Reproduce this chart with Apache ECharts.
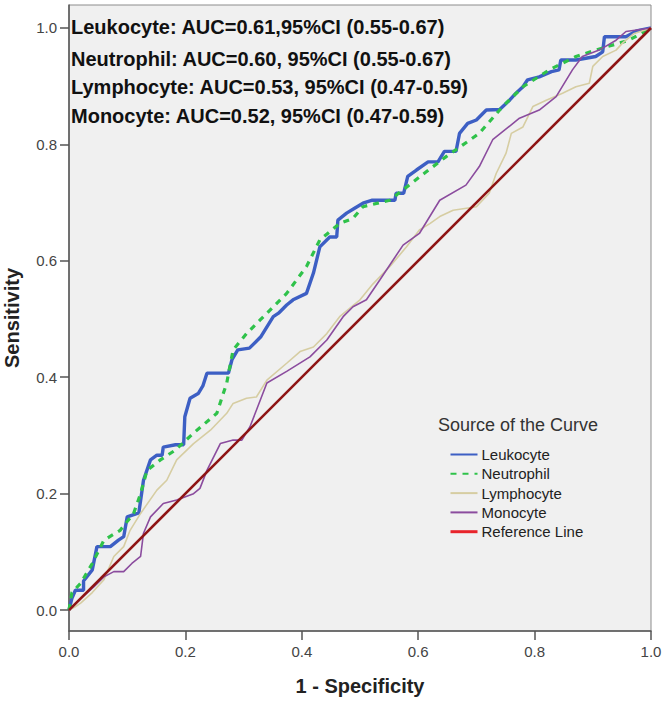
<!DOCTYPE html>
<html>
<head>
<meta charset="utf-8">
<script src="https://cdn.jsdelivr.net/npm/echarts@6/dist/echarts.min.js"></script>
<style>
html,body{margin:0;padding:0;background:#fff;}
#chart{width:666px;height:702px;}
</style>
</head>
<body>
<div id="chart"></div>
<script>
// ---- data ----
const seriesNames = ['Leukocyte', 'Neutrophil', 'Lymphocyte', 'Monocyte', 'Reference Line'];
const annotations = [
  'Leukocyte: AUC=0.61,95%CI (0.55-0.67)',
  'Neutrophil: AUC=0.60, 95%CI (0.55-0.67)',
  'Lymphocyte: AUC=0.53, 95%CI (0.47-0.59)',
  'Monocyte: AUC=0.52, 95%CI (0.47-0.59)'
];
const tickValues = [0, 0.2, 0.4, 0.6, 0.8, 1.0];

const leukocyteX = [0,0.005,0.011,0.025,0.025,0.04,0.048,0.071,0.085,0.094,0.1,0.12,0.128,0.14,0.151,0.16,0.162,0.183,0.197,0.199,0.208,0.222,0.23,0.237,0.274,0.28,0.29,0.31,0.33,0.351,0.36,0.374,0.385,0.408,0.42,0.431,0.448,0.46,0.462,0.477,0.49,0.505,0.52,0.56,0.562,0.575,0.582,0.597,0.617,0.634,0.645,0.665,0.671,0.685,0.70,0.717,0.74,0.757,0.768,0.78,0.788,0.808,0.829,0.842,0.845,0.871,0.905,0.917,0.92,0.957,0.975,1];
const leukocyteY = [0,0.02,0.034,0.034,0.05,0.069,0.109,0.109,0.12,0.126,0.16,0.167,0.223,0.258,0.266,0.266,0.28,0.284,0.284,0.332,0.364,0.372,0.385,0.407,0.407,0.43,0.447,0.45,0.47,0.504,0.51,0.524,0.533,0.544,0.579,0.624,0.641,0.641,0.67,0.682,0.69,0.699,0.704,0.704,0.716,0.716,0.745,0.756,0.77,0.77,0.788,0.788,0.819,0.836,0.842,0.859,0.86,0.876,0.888,0.899,0.911,0.916,0.925,0.928,0.945,0.945,0.951,0.959,0.985,0.985,0.995,1];

const neutrophilX = [0,0.005,0.02,0.04,0.06,0.088,0.111,0.123,0.134,0.157,0.183,0.214,0.254,0.271,0.282,0.305,0.328,0.351,0.374,0.408,0.431,0.465,0.488,0.505,0.551,0.574,0.61,0.648,0.705,0.745,0.78,0.825,0.871,0.905,0.962,1];
const neutrophilY = [0,0.03,0.046,0.08,0.12,0.137,0.166,0.2,0.24,0.258,0.275,0.304,0.338,0.39,0.447,0.475,0.498,0.521,0.544,0.59,0.636,0.664,0.673,0.693,0.704,0.722,0.75,0.779,0.819,0.865,0.899,0.928,0.951,0.962,0.979,1];

const lymphocyteX = [0,0.01,0.02,0.04,0.06,0.077,0.094,0.105,0.123,0.151,0.168,0.185,0.214,0.243,0.271,0.282,0.305,0.322,0.34,0.374,0.397,0.42,0.443,0.465,0.5,0.522,0.551,0.58,0.602,0.62,0.637,0.66,0.70,0.722,0.734,0.751,0.76,0.78,0.797,0.82,0.848,0.871,0.894,0.90,0.917,0.94,0.951,0.97,1];
const lymphocyteY = [0,0.005,0.012,0.03,0.052,0.092,0.109,0.137,0.166,0.206,0.223,0.258,0.286,0.309,0.338,0.355,0.364,0.366,0.395,0.424,0.444,0.452,0.475,0.504,0.533,0.56,0.59,0.624,0.653,0.664,0.676,0.687,0.693,0.716,0.75,0.785,0.819,0.83,0.865,0.876,0.888,0.899,0.905,0.934,0.951,0.962,0.974,0.99,1];

const monocyteX = [0,0.014,0.043,0.06,0.077,0.094,0.108,0.123,0.128,0.14,0.162,0.185,0.214,0.225,0.237,0.26,0.282,0.297,0.311,0.34,0.374,0.414,0.443,0.471,0.488,0.511,0.534,0.574,0.602,0.637,0.682,0.705,0.728,0.774,0.808,0.837,0.865,0.882,0.911,0.94,0.957,1];
const monocyteY = [0,0.014,0.04,0.057,0.066,0.066,0.08,0.092,0.132,0.16,0.183,0.189,0.20,0.209,0.24,0.286,0.292,0.292,0.315,0.39,0.41,0.435,0.464,0.504,0.521,0.533,0.567,0.627,0.647,0.704,0.73,0.762,0.808,0.845,0.859,0.882,0.928,0.951,0.962,0.979,0.994,1];

const referenceX = [0, 1];
const referenceY = [0, 1];

// ---- build ----
const pair = (xs, ys) => xs.map((x, i) => [x, ys[i]]);
const chart = echarts.init(document.getElementById('chart'), null, {renderer: 'svg'});
const fmt = v => Number(v).toFixed(1);

const option = {
  animation: false,
  backgroundColor: '#ffffff',
  grid: {
    left: 69, right: 15, top: 5, bottom: 71,
    outerBoundsMode: 'none', containLabel: false,
    show: true, backgroundColor: '#f0f0f0', borderColor: '#8c8c8c', borderWidth: 1
  },
  xAxis: {
    type: 'value', min: 0, max: 1, interval: 0.2,
    name: '1 - Specificity', nameLocation: 'middle', nameGap: 45,
    nameTextStyle: {fontFamily: 'Liberation Sans', fontWeight: 'bold', fontSize: 20, color: '#222'},
    axisLine: {show: true, onZero: false, lineStyle: {color: '#555', width: 1.5}},
    axisTick: {show: true, inside: false, length: 9, lineStyle: {color: '#555', width: 1.5}},
    axisLabel: {formatter: fmt, margin: 13, fontFamily: 'Liberation Sans', fontSize: 15, color: '#444'},
    splitLine: {show: false}
  },
  yAxis: {
    type: 'value', min: -0.036, max: 1.0395,
    name: 'Sensitivity', nameLocation: 'middle', nameGap: 47, nameRotate: 90,
    nameTextStyle: {fontFamily: 'Liberation Sans', fontWeight: 'bold', fontSize: 20, color: '#222'},
    axisLine: {show: true, onZero: false, lineStyle: {color: '#555', width: 1.5}},
    axisTick: {show: true, inside: false, length: 9, customValues: tickValues, lineStyle: {color: '#555', width: 1.5}},
    axisLabel: {formatter: fmt, margin: 12, customValues: tickValues, fontFamily: 'Liberation Sans', fontSize: 15, color: '#444'},
    splitLine: {show: false}
  },
  legend: {
    orient: 'vertical', left: 449, top: 447, padding: 0,
    itemWidth: 27, itemHeight: 14, itemGap: 4.3,
    itemStyle: {color: 'rgba(0,0,0,0)', borderColor: 'rgba(0,0,0,0)', borderWidth: 0},
    textStyle: {fontFamily: 'Liberation Sans', fontSize: 15, color: '#222', lineHeight: 14, padding: [0, 0, 0, -1]},
    data: [
      {name: 'Leukocyte'},
      {name: 'Neutrophil'},
      {name: 'Lymphocyte'},
      {name: 'Monocyte'},
      {name: 'Reference Line', lineStyle: {color: '#e8242b', width: 3}}
    ]
  },
  graphic: [
    {type: 'text', left: 438, top: 416, style: {text: 'Source of the Curve', fontFamily: 'Liberation Sans', fontSize: 18, fill: '#333'}},
    ...annotations.map((t, i) => ({
      type: 'text', left: 71, top: [28, 60, 88, 117][i] - 11,
      style: {text: t, fontFamily: 'Liberation Sans', fontWeight: 'bold', fontSize: 20, fill: '#111'}
    }))
  ],
  series: [
    {name: seriesNames[0], type: 'line', data: pair(leukocyteX, leukocyteY), symbol: 'none', color: '#3d5fc4',
     lineStyle: {width: 3.4, color: '#3d5fc4'}},
    {name: seriesNames[1], type: 'line', data: pair(neutrophilX, neutrophilY), symbol: 'none', color: '#2fc24a',
     lineStyle: {width: 3.2, color: '#2fc24a', type: [6, 6]}},
    {name: seriesNames[2], type: 'line', data: pair(lymphocyteX, lymphocyteY), symbol: 'none', color: '#d6cda2',
     lineStyle: {width: 1.6, color: '#d6cda2'}},
    {name: seriesNames[3], type: 'line', data: pair(monocyteX, monocyteY), symbol: 'none', color: '#8b4c9e',
     lineStyle: {width: 1.6, color: '#8b4c9e'}},
    {name: seriesNames[4], type: 'line', data: pair(referenceX, referenceY), symbol: 'none', color: '#8e1414',
     lineStyle: {width: 2.6, color: '#8e1414'}}
  ]
};
chart.setOption(option);
</script>
</body>
</html>
